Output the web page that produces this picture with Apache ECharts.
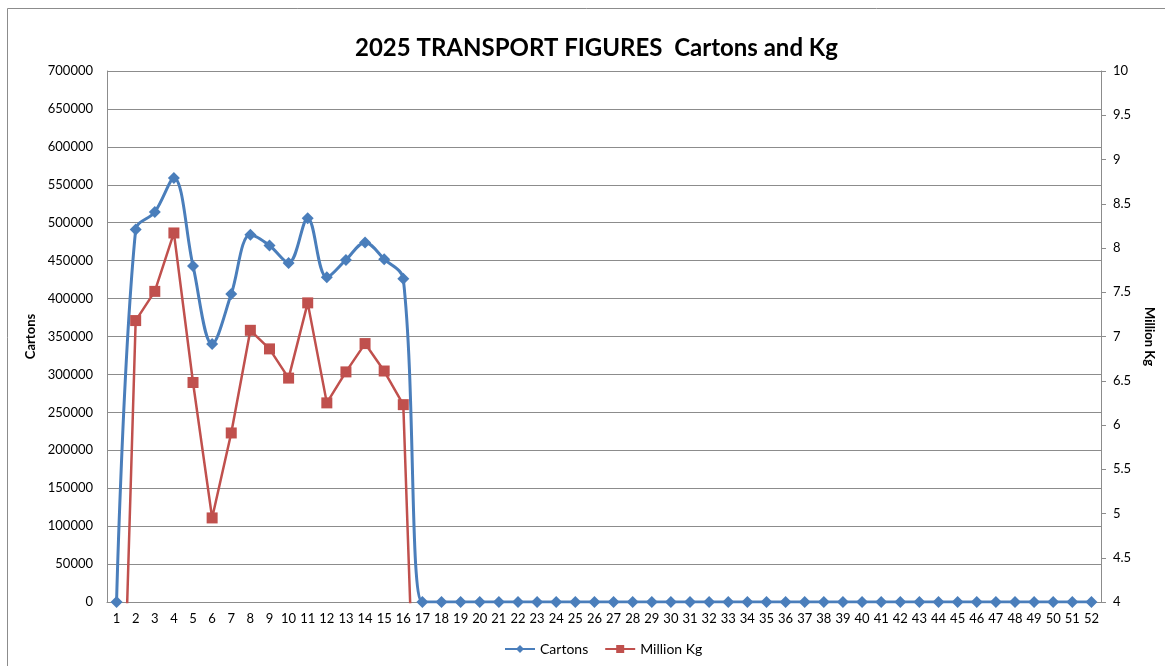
<!DOCTYPE html>
<html>
<head>
<meta charset="utf-8">
<script src="https://cdn.jsdelivr.net/npm/echarts@6/dist/echarts.min.js"></script>
<style>
html,body{margin:0;padding:0;background:#fff;}
#chart{width:1165px;height:666px;}
</style>
</head>
<body>
<div id="chart"></div>
<script>
const weeks = Array.from({length: 52}, (_, i) => String(i + 1));
const cartons = [0, 491000, 514000, 559000, 443000, 340000, 406000, 484000, 470000, 447000,
  506000, 428000, 451000, 474000, 452000, 426000,
  0,0,0,0,0,0,0,0,0,0,0,0,0,0,0,0,0,0,0,0,0,0,0,0,0,0,0,0,0,0,0,0,0,0,0,0];
const millionKg = [0, 7.18, 7.51, 8.17, 6.48, 4.95, 5.91, 7.07, 6.86, 6.53,
  7.38, 6.25, 6.60, 6.92, 6.61, 6.23,
  0,0,0,0,0,0,0,0,0,0,0,0,0,0,0,0,0,0,0,0,0,0,0,0,0,0,0,0,0,0,0,0,0,0,0,0];

const FONT = 'Lato';
const chart = echarts.init(document.getElementById('chart'));
chart.setOption({
  backgroundColor: '#fff',
  animation: false,
  textStyle: {fontFamily: FONT},
  graphic: [{
    type: 'rect', z: -1, silent: true,
    shape: {x: 7.5, y: 8.5, width: 1200, height: 700},
    style: {fill: 'none', stroke: '#8c8c8c', lineWidth: 1}
  }],
  title: {
    text: '2025 TRANSPORT FIGURES  Cartons and Kg',
    left: 350, top: 31,
    textStyle: {fontFamily: FONT, fontSize: 24, fontWeight: 'bold', color: '#000'}
  },
  legend: {
    bottom: 5, left: 499,
    itemWidth: 30, itemHeight: 10, itemGap: 16,
    textStyle: {fontFamily: FONT, fontSize: 14, color: '#000'},
    data: ['Cartons', 'Million Kg']
  },
  grid: {left: 107, right: 64, top: 71, bottom: 64, containLabel: false},
  xAxis: {
    type: 'category', data: weeks, boundaryGap: true,
    axisLine: {lineStyle: {color: '#8c8c8c', width: 1}},
    axisTick: {show: false},
    axisLabel: {interval: 0, color: '#000', fontSize: 13, fontFamily: FONT, margin: 10}
  },
  yAxis: [{
    type: 'value', min: 0, max: 700000, interval: 50000,
    name: 'Cartons', nameLocation: 'middle', nameGap: 64, nameRotate: 90,
    nameTextStyle: {fontFamily: FONT, fontSize: 13, fontWeight: 'bold', color: '#000'},
    axisLine: {show: true, lineStyle: {color: '#8c8c8c'}},
    axisTick: {show: false},
    axisLabel: {color: '#000', fontSize: 13, fontFamily: FONT, margin: 14,
      formatter: v => String(v)},
    splitLine: {lineStyle: {color: '#8c8c8c', width: 1}}
  }, {
    type: 'value', position: 'right', min: 4, max: 10, interval: 0.5,
    name: 'Million Kg', nameLocation: 'middle', nameGap: 42, nameRotate: -90,
    nameTextStyle: {fontFamily: FONT, fontSize: 13, fontWeight: 'bold', color: '#000'},
    axisLine: {show: true, lineStyle: {color: '#8c8c8c'}},
    axisTick: {show: true, length: 5, lineStyle: {color: '#8c8c8c'}},
    axisLabel: {color: '#000', fontSize: 13, fontFamily: FONT, margin: 12,
      formatter: v => String(v)},
    splitLine: {show: false}
  }],
  series: [{
    name: 'Cartons', type: 'line', yAxisIndex: 0, data: cartons,
    smooth: 0.35, clip: true,
    symbol: 'diamond', symbolSize: 12,
    lineStyle: {color: '#4A7EBB', width: 3},
    itemStyle: {color: '#4A7EBB'}
  }, {
    name: 'Million Kg', type: 'line', yAxisIndex: 1, data: millionKg,
    smooth: false, clip: true,
    symbol: 'rect', symbolSize: 11,
    lineStyle: {color: '#C0504D', width: 2.5},
    itemStyle: {color: '#C0504D'}
  }]
});
</script>
</body>
</html>
